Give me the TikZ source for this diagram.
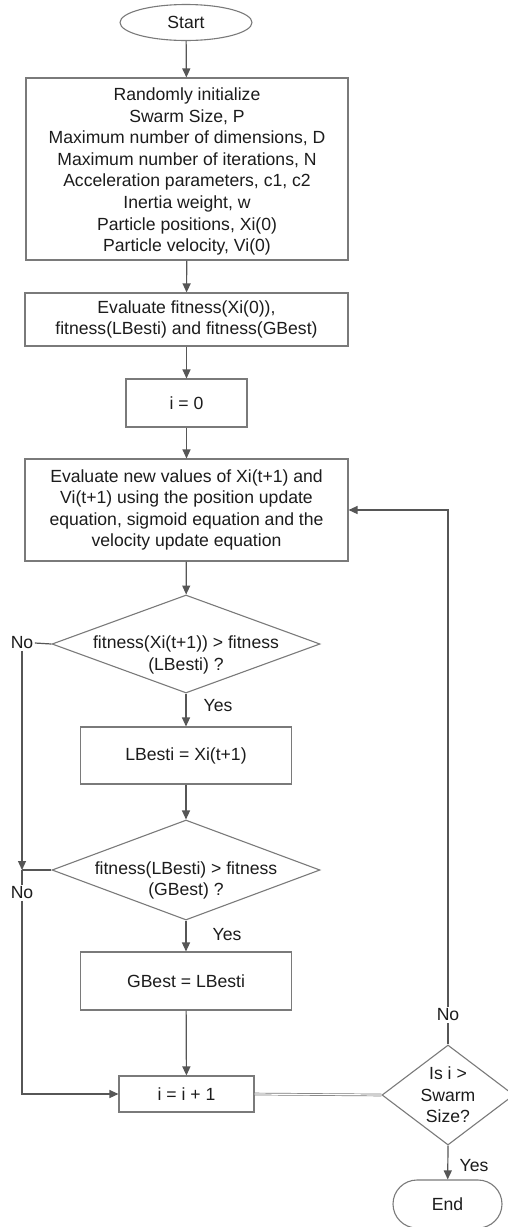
\documentclass[tikz,border=0pt]{standalone}
\usepackage{fontspec}
\setmainfont{Liberation Sans}
\usetikzlibrary{shapes.geometric,arrows.meta}
\definecolor{edge}{HTML}{7A7A7A}
\definecolor{wire}{HTML}{565656}
\definecolor{ink}{HTML}{1C1C1C}
\begin{document}
\begin{tikzpicture}[x=1pt,y=-1pt,
  every node/.style={text=ink,font=\fontsize{17.6}{21.6}\selectfont,align=center,inner sep=0pt},
  procbox/.style={draw=edge,line width=1.1pt,rectangle},
  decision/.style={draw=edge,line width=1.1pt,diamond},
  arr/.style={draw=wire,line width=1.2pt,-{Triangle[length=9pt,width=8pt]}},
  plain/.style={draw=wire,line width=1.2pt},
  tag/.style={inner sep=1.5pt}]
\useasboundingbox (0,0) rectangle (507,1227);
\fill[white] (0,0) rectangle (507,1227);

% terminals and process boxes
\node[draw=edge,line width=1.1pt,ellipse,minimum width=132pt,minimum height=36pt] (start) at (186,22.5) {Start};
\node[procbox,minimum width=322pt,minimum height=182pt] (init) at (187,169) {};
\node (inittext) at (187,171.5)
  {Randomly initialize\\Swarm Size, P\\Maximum number of dimensions, D\\Maximum number of iterations, N\\Acceleration parameters, c1, c2\\Inertia weight, w\\Particle positions, Xi(0)\\Particle velocity, Vi(0)};
\node[procbox,minimum width=323pt,minimum height=53pt] (fit) at (186.5,319.5)
  {Evaluate fitness(Xi(0)),\\fitness(LBesti) and fitness(GBest)};
\node[procbox,minimum width=121pt,minimum height=48pt] (izero) at (186.5,403) {i = 0};
\node[procbox,minimum width=323pt,minimum height=102pt] (upd) at (186.5,510)
  {Evaluate new values of Xi(t+1) and\\Vi(t+1) using the position update\\equation, sigmoid equation and the\\velocity update equation};

% first decision
\node[decision,minimum width=268pt,minimum height=98pt] (dl) at (186,644) {};
\node (dltext) at (186,655) {fitness(Xi(t+1)) > fitness\\(LBesti) ?};
\node[procbox,minimum width=211pt,minimum height=57pt] (lbest) at (186,755.5) {LBesti = Xi(t+1)};

% second decision
\node[decision,minimum width=268pt,minimum height=100pt] (dg) at (186,870) {};
\node (dgtext) at (186,880.5) {fitness(LBesti) > fitness\\(GBest) ?};
\node[procbox,minimum width=211pt,minimum height=58pt] (gbest) at (186,981) {GBest = LBesti};

\node[procbox,minimum width=135pt,minimum height=36pt] (inc) at (186.5,1094) {i = i + 1};

% loop test
\node[decision,minimum width=132pt,minimum height=100pt] (dloop) at (448,1095) {};
\node (dlooptext) at (448,1095) {Is i >\\Swarm\\Size?};
\node[draw=edge,line width=1.1pt,rectangle,rounded corners=24pt,minimum width=109pt,minimum height=48pt] (stop) at (447.5,1204) {End};

% branch labels
\node[tag] (noA) at (22,643) {No};
\node[tag] (noB) at (22,893) {No};
\node[tag] (noC) at (448,1015) {No};
\node (yesA) at (218,706) {Yes};
\node (yesB) at (227,935) {Yes};
\node (yesC) at (474,1166) {Yes};
\coordinate (join) at (22,870);

% main flow
\draw[arr] (start) -- (init);
\draw[arr] (init) -- (fit);
\draw[arr] (fit) -- (izero);
\draw[arr] (izero) -- (upd);
\draw[arr] (upd) -- (dl);
\draw[arr] (dl) -- (lbest);
\draw[arr] (lbest) -- (dg);
\draw[arr] (dg) -- (gbest);
\draw[arr] (gbest) -- (inc);

% "No" branches on the left
\draw[plain] (dl.west) -- (noA.east);
\draw[arr] (noA.south) -- (join);
\draw[plain] (dg.west) -- (join);
\draw[plain] (join) -- (noB.north);
\draw[arr] (noB.south) |- (inc.west);

% counter test and loop back
\draw[draw=edge,double=white,double distance=1.2pt,line width=0.7pt] (inc.east) -- (dloop.west);
\draw[plain] (dloop.north) -- (noC.south);
\draw[arr] (noC.north) |- (upd.east);
\draw[arr] (dloop.south) -- (stop);
\end{tikzpicture}
\end{document}
